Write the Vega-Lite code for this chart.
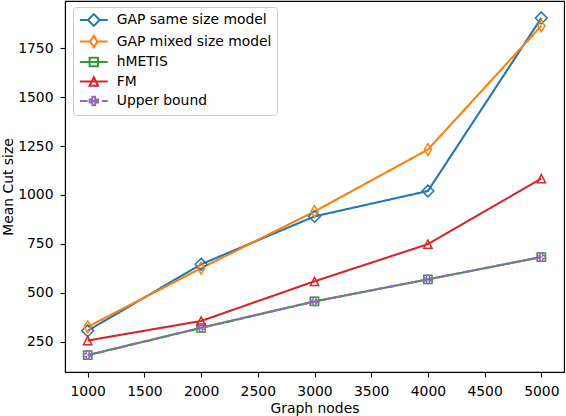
{
  "$schema": "https://vega.github.io/schema/vega-lite/v6.json",
  "width": 499,
  "height": 371,
  "autosize": {"type": "none"},
  "padding": {"left": 65, "top": 1, "right": 2, "bottom": 44},
  "config": {
    "font": "DejaVu Sans",
    "view": {"stroke": "black", "strokeWidth": 1.1},
    "axis": {
      "grid": false,
      "domainColor": "black",
      "domainWidth": 1.1,
      "tickColor": "black",
      "tickWidth": 1.1,
      "tickSize": 5,
      "labelPadding": 7,
      "labelColor": "black",
      "labelFontSize": 13.9,
      "labelFont": "DejaVu Sans",
      "titleFont": "DejaVu Sans",
      "titleFontSize": 13.9,
      "titleFontWeight": "normal",
      "titleColor": "black"
    },
    "legend": {
      "orient": "none",
      "legendX": 8,
      "legendY": 6,
      "padding": 5,
      "fillColor": "rgba(255,255,255,0.8)",
      "strokeColor": "#cccccc",
      "cornerRadius": 3,
      "symbolSize": 196,
      "symbolStrokeWidth": 2,
      "symbolOffset": 7.8,
      "rowPadding": 1.5,
      "labelOffset": 15,
      "labelFont": "DejaVu Sans",
      "labelFontSize": 13.9,
      "labelColor": "black",
      "labelLimit": 300
    }
  },
  "data": {
    "values": [
      {"series": "GAP same size model", "nodes": 1000, "cut": 305},
      {"series": "GAP same size model", "nodes": 2000, "cut": 645},
      {"series": "GAP same size model", "nodes": 3000, "cut": 890},
      {"series": "GAP same size model", "nodes": 4000, "cut": 1020},
      {"series": "GAP same size model", "nodes": 5000, "cut": 1905},
      {"series": "GAP mixed size model", "nodes": 1000, "cut": 325},
      {"series": "GAP mixed size model", "nodes": 2000, "cut": 625},
      {"series": "GAP mixed size model", "nodes": 3000, "cut": 915},
      {"series": "GAP mixed size model", "nodes": 4000, "cut": 1232},
      {"series": "GAP mixed size model", "nodes": 5000, "cut": 1865},
      {"series": "hMETIS", "nodes": 1000, "cut": 180},
      {"series": "hMETIS", "nodes": 2000, "cut": 320},
      {"series": "hMETIS", "nodes": 3000, "cut": 455},
      {"series": "hMETIS", "nodes": 4000, "cut": 568},
      {"series": "hMETIS", "nodes": 5000, "cut": 682},
      {"series": "FM", "nodes": 1000, "cut": 255},
      {"series": "FM", "nodes": 2000, "cut": 355},
      {"series": "FM", "nodes": 3000, "cut": 558},
      {"series": "FM", "nodes": 4000, "cut": 748},
      {"series": "FM", "nodes": 5000, "cut": 1083},
      {"series": "Upper bound", "nodes": 1000, "cut": 180},
      {"series": "Upper bound", "nodes": 2000, "cut": 320},
      {"series": "Upper bound", "nodes": 3000, "cut": 455},
      {"series": "Upper bound", "nodes": 4000, "cut": 568},
      {"series": "Upper bound", "nodes": 5000, "cut": 682}
    ]
  },
  "encoding": {
    "x": {
      "field": "nodes",
      "type": "quantitative",
      "title": "Graph nodes",
      "scale": {"domain": [800, 5200], "nice": false, "zero": false},
      "axis": {"values": [1000, 1500, 2000, 2500, 3000, 3500, 4000, 4500, 5000], "format": "d", "titlePadding": 4}
    },
    "y": {
      "field": "cut",
      "type": "quantitative",
      "title": "Mean Cut size",
      "scale": {"domain": [94, 1992], "nice": false, "zero": false},
      "axis": {"values": [250, 500, 750, 1000, 1250, 1500, 1750], "format": "d", "titlePadding": 2}
    }
  },
  "layer": [
    {
      "mark": {"type": "line", "strokeWidth": 2.1},
      "encoding": {
        "color": {
          "field": "series",
          "type": "nominal",
          "scale": {
            "domain": ["GAP same size model", "GAP mixed size model", "hMETIS", "FM", "Upper bound"],
            "range": ["#1f77b4", "#ff7f0e", "#2ca02c", "#d62728", "#9467bd"]
          },
          "legend": null
        },
        "strokeDash": {
          "field": "series",
          "type": "nominal",
          "scale": {
            "domain": ["GAP same size model", "GAP mixed size model", "hMETIS", "FM", "Upper bound"],
            "range": [[1, 0], [1, 0], [1, 0], [1, 0], [7.7, 3.3]]
          },
          "legend": null
        }
      }
    },
    {
      "mark": {"type": "point", "filled": false, "opacity": 1, "size": 100, "strokeWidth": 1.5},
      "encoding": {
        "color": {"field": "series", "type": "nominal", "legend": null},
        "shape": {
          "field": "series",
          "type": "nominal",
          "scale": {
            "domain": ["GAP same size model", "GAP mixed size model", "hMETIS", "FM", "Upper bound"],
            "range": [
              "M0,-1.18L1.18,0L0,1.18L-1.18,0Z",
              "M0,-1.18L0.71,0L0,1.18L-0.71,0Z",
              "M-0.83,-0.83H0.83V0.83H-0.83Z",
              "M0,-0.83L0.83,0.83H-0.83Z",
              "M-0.28,-0.83H0.28V-0.28H0.83V0.28H0.28V0.83H-0.28V0.28H-0.83V-0.28H-0.28Z"
            ]
          },
          "legend": null
        }
      }
    },
    {
      "transform": [{"filter": "false"}],
      "mark": {"type": "point", "filled": false, "opacity": 1},
      "encoding": {
        "stroke": {
          "field": "series",
          "type": "nominal",
          "title": null,
          "scale": {
            "domain": ["GAP same size model", "GAP mixed size model", "hMETIS", "FM", "Upper bound"],
            "range": ["#1f77b4", "#ff7f0e", "#2ca02c", "#d62728", "#9467bd"]
          }
        },
        "shape": {
          "field": "series",
          "type": "nominal",
          "title": null,
          "scale": {
            "domain": ["GAP same size model", "GAP mixed size model", "hMETIS", "FM", "Upper bound"],
            "range": [
              "M-1.99,0H-0.84M0.84,0H1.99M0,-0.84L0.84,0L0,0.84L-0.84,0Z",
              "M-1.99,0H-0.51M0.51,0H1.99M0,-0.84L0.51,0L0,0.84L-0.51,0Z",
              "M-1.99,0H1.99M-0.6,-0.6H0.6V0.6H-0.6Z",
              "M-1.99,0H1.99M0,-0.6L0.6,0.6H-0.6Z",
              "M-1.99,0H-0.89M-0.41,0H0.69M1.16,0H1.99M-0.2,-0.6H0.2V-0.2H0.6V0.2H0.2V0.6H-0.2V0.2H-0.6V-0.2H-0.2Z"
            ]
          }
        }
      }
    }
  ],
  "resolve": {"scale": {"shape": "independent", "stroke": "independent"}}
}
